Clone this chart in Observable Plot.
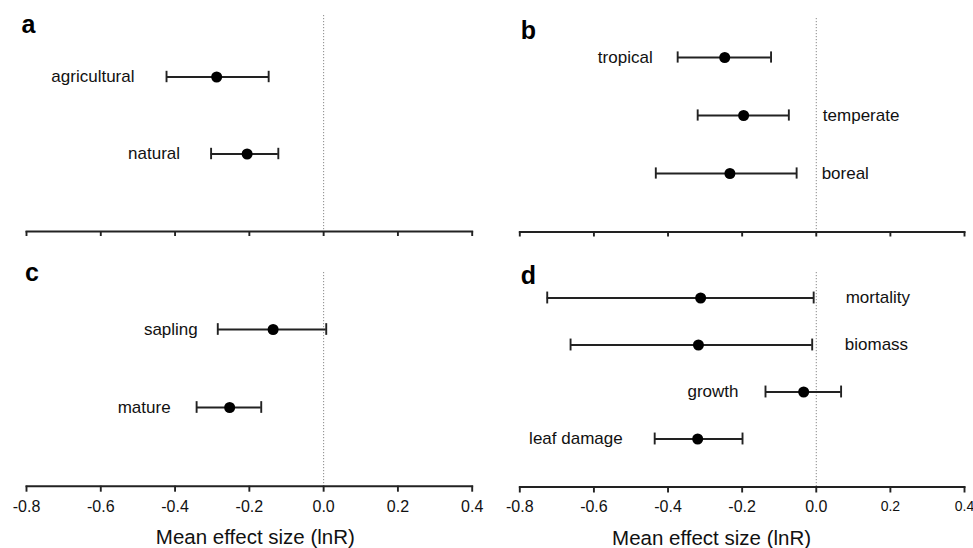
<!DOCTYPE html>
<html>
<head>
<meta charset="utf-8">
<script src="https://cdn.jsdelivr.net/npm/d3@7"></script>
<script src="https://cdn.jsdelivr.net/npm/@observablehq/plot@0.6"></script>
<style>
  html, body { margin: 0; padding: 0; background: #fff; }
  #chart { position: relative; width: 973px; height: 548px; overflow: hidden; background: #fff; }
  .panel { position: absolute; }
</style>
</head>
<body>
<div id="chart"></div>
<script>
// ---------- DATA ----------
const xTicks = [-0.8, -0.6, -0.4, -0.2, 0.0, 0.2, 0.4];
const axisTitle = "Mean effect size (lnR)";

const panelLetters = ["a", "b", "c", "d"];

const aCategories = ["agricultural", "natural"];
const aMean = [-0.288, -0.206];
const aLow  = [-0.423, -0.303];
const aHigh = [-0.148, -0.122];

const bCategories = ["tropical", "temperate", "boreal"];
const bMean = [-0.247, -0.196, -0.233];
const bLow  = [-0.374, -0.320, -0.433];
const bHigh = [-0.122, -0.074, -0.053];

const cCategories = ["sapling", "mature"];
const cMean = [-0.136, -0.253];
const cLow  = [-0.285, -0.342];
const cHigh = [0.007, -0.168];

const dCategories = ["mortality", "biomass", "growth", "leaf damage"];
const dMean = [-0.312, -0.318, -0.034, -0.320];
const dLow  = [-0.726, -0.663, -0.137, -0.436];
const dHigh = [-0.007, -0.011, 0.067, -0.199];

// ---------- LAYOUT (pixels / styles) ----------
// rowCenters: first and last row centre (px, within the panel svg)
const layout = [
  {left: 0,   top: 0,   width: 490, height: 250, mL: 26,   mR: 18.3, mT: 15, mB: 19,
   rowCenters: [75.7, 153.3], letterDx: -5, letterDy: 17.7, sides: ["left","left"], gaps: [32, 31],
   tickLabels: false, tickSize: 5},
  {left: 490, top: 0,   width: 483, height: 250, mL: 29.3, mR: 9,    mT: 18, mB: 18.5,
   rowCenters: [55.7, 173.3], letterDx: 1, letterDy: 20, sides: ["left","right","right"], gaps: [25, 34, 25],
   tickLabels: false, tickSize: 5},
  {left: 0,   top: 250, width: 490, height: 298, mL: 26,   mR: 18.3, mT: 22, mB: 62.3,
   rowCenters: [78.7, 157], letterDx: -1.5, letterDy: 8, sides: ["left","left"], gaps: [20, 26],
   tickLabels: true, tickSize: 6, titleDx: 6},
  {left: 490, top: 250, width: 483, height: 298, mL: 29.3, mR: 9,    mT: 22, mB: 61.5,
   rowCenters: [47.7, 189], letterDx: 1, letterDy: 11.3, sides: ["right","right","left","left"], gaps: [32, 32.6, 27, 32],
   tickLabels: true, tickSize: 6, titleDx: -30.6, smallTicks: true}
];
const CAP_HALF = 6;

const panels = [
  [aCategories, aMean, aLow, aHigh],
  [bCategories, bMean, bLow, bHigh],
  [cCategories, cMean, cLow, cHigh],
  [dCategories, dMean, dLow, dHigh]
];

const FONT = "'Liberation Sans', Arial, Helvetica, sans-serif";
const INK = "#111";
const LINE = "#222";
const SW = 1.9;
const chart = document.getElementById("chart");

panels.forEach(([cats, mean, lo, hi], p) => {
  const L = layout[p];
  const rows = cats.map((c, i) => ({cat: c, mean: mean[i], lo: lo[i], hi: hi[i], side: L.sides[i], gap: L.gaps[i]}));

  // band scale whose band centres fall on the row centres
  const n = cats.length;
  const step = (L.rowCenters[1] - L.rowCenters[0]) / (n - 1);
  const yRange = [L.rowCenters[0] - step / 2, L.rowCenters[1] + step / 2];
  const capInset = step / 2 - CAP_HALF;

  const labelMarks = rows.map(r => Plot.text([r], {
    x: r.side === "left" ? "lo" : "hi",
    y: "cat",
    text: "cat",
    textAnchor: r.side === "left" ? "end" : "start",
    dx: r.side === "left" ? -r.gap : r.gap,
    lineAnchor: "middle",
    fontSize: 17,
    fill: INK
  }));

  const marks = [
    Plot.ruleX([0], {stroke: "#888", strokeWidth: 1, strokeDasharray: "1.2,1.8"}),
    Plot.frame({anchor: "bottom", stroke: LINE, strokeWidth: SW}),
    Plot.axisX({
      ticks: xTicks,
      tickSize: L.tickSize,
      tickPadding: 8,
      strokeWidth: SW,
      stroke: LINE,
      fontSize: 16,
      fill: INK,
      tickFormat: L.tickLabels ? (d => d.toFixed(1)) : (() => ""),
      label: null
    }),
    Plot.ruleY(rows, {y: "cat", x1: "lo", x2: "hi", stroke: LINE, strokeWidth: SW}),
    Plot.tickX(rows, {x: "lo", y: "cat", stroke: LINE, strokeWidth: SW, insetTop: capInset, insetBottom: capInset}),
    Plot.tickX(rows, {x: "hi", y: "cat", stroke: LINE, strokeWidth: SW, insetTop: capInset, insetBottom: capInset}),
    Plot.dot(rows, {x: "mean", y: "cat", r: 5.5, fill: "#000", stroke: "none"}),
    ...labelMarks,
    Plot.text([panelLetters[p]], {
      text: d => d, frameAnchor: "top-left", textAnchor: "start", lineAnchor: "bottom",
      dx: L.letterDx, dy: L.letterDy, fontSize: 25, fontWeight: "bold", fill: "#000"
    })
  ];

  if (L.tickLabels) {
    marks.push(Plot.text([axisTitle], {
      text: d => d, frameAnchor: "bottom", textAnchor: "middle", lineAnchor: "top",
      dx: L.titleDx, dy: 43.3, fontSize: 20.5, fill: INK
    }));
  }

  const svg = Plot.plot({
    width: L.width,
    height: L.height,
    marginLeft: L.mL,
    marginRight: L.mR,
    marginTop: L.mT,
    marginBottom: L.mB,
    x: {domain: [-0.8, 0.4], axis: null},
    y: {type: "band", domain: cats, range: yRange, padding: 0, axis: null},
    style: {fontFamily: FONT, background: "transparent", overflow: "visible", color: LINE},
    marks
  });

  if (L.smallTicks) {
    d3.select(svg).selectAll("text")
      .filter(function() { const t = this.textContent; return t === "0.2" || t === "0.4"; })
      .attr("font-size", 14);
  }

  const holder = document.createElement("div");
  holder.className = "panel";
  holder.style.left = L.left + "px";
  holder.style.top = L.top + "px";
  holder.style.width = L.width + "px";
  holder.style.height = L.height + "px";
  holder.appendChild(svg);
  chart.appendChild(holder);
});
</script>
</body>
</html>
